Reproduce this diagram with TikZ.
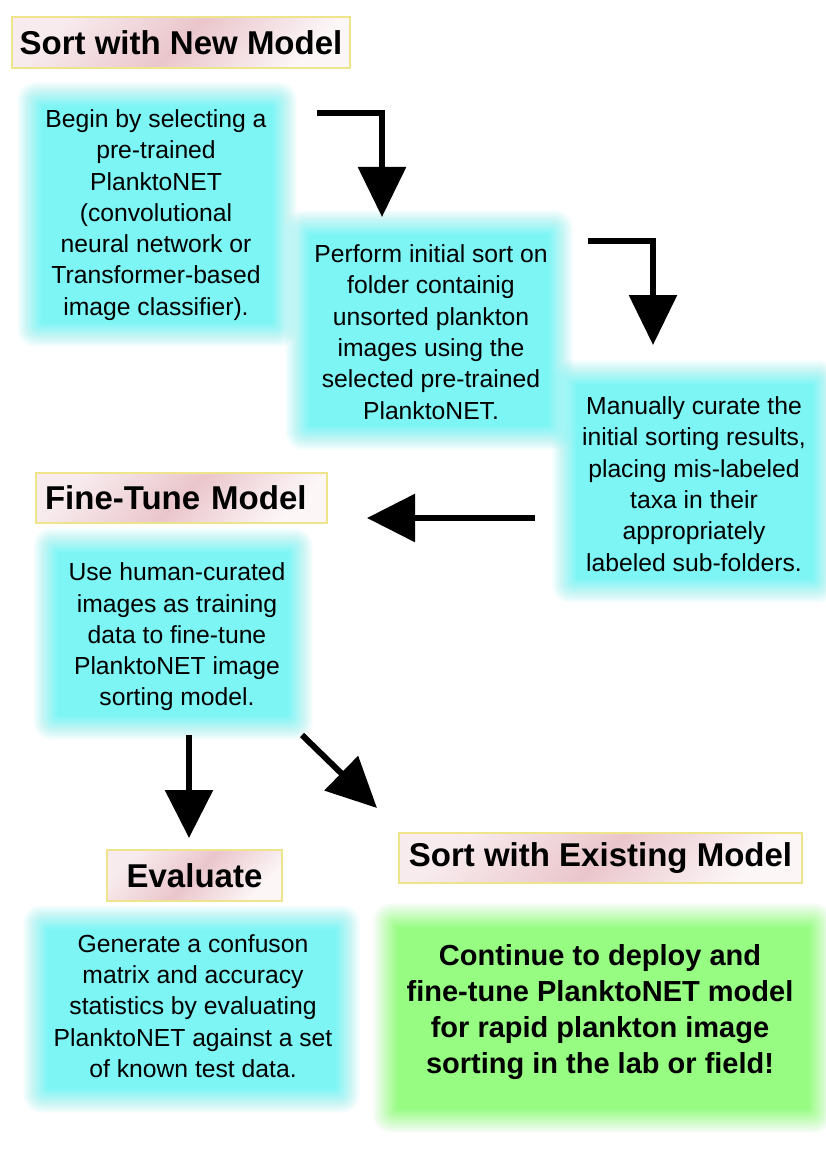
\documentclass[tikz,border=0pt]{standalone}
\usepackage{fontspec}
\setmainfont{Liberation Sans}
\usetikzlibrary{arrows.meta}
\definecolor{cyanG}{RGB}{125,245,245}
\definecolor{greenG}{RGB}{150,252,130}
\definecolor{pinkT}{RGB}{234,198,204}
\definecolor{borderY}{RGB}{238,228,140}
\newcommand\glowbox[5]{%
  \foreach \gI in {20,19,...,-5}{%
    \pgfmathsetmacro\gO{1/(\gI+6)}%
    \pgfmathsetmacro\gR{max(1,0.7*(\gI+6))}%
    \fill[#5, fill opacity=\gO, rounded corners=\gR pt] ({#1-\gI},{#2-\gI}) rectangle ({#3+\gI},{#4+\gI});
  }%
}
\tikzset{
  titlebox/.style={draw=borderY, line width=1.5pt, top color=pinkT!35, bottom color=pinkT!15,
    middle color=pinkT, shading angle=45, inner sep=0pt,
    font=\fontsize{33}{40}\selectfont\bfseries},
  bodytext/.style={align=center, inner sep=0pt, font=\fontsize{24.7}{31.3}\selectfont},
  greentext/.style={align=center, inner sep=0pt, font=\fontsize{29}{36}\selectfont\bfseries},
  arrowline/.style={line width=6pt, miter limit=10, -{Triangle[length=50pt,width=47pt]}}
}
\begin{document}
\begin{tikzpicture}[x=1pt,y=-1pt]
\useasboundingbox (0,0) rectangle (826,1169);
\fill[white] (0,0) rectangle (826,1169);

% glow backgrounds
\glowbox{37}{102}{277}{327}{cyanG}
\glowbox{305}{230}{553}{430}{cyanG}
\glowbox{572}{380}{817}{583}{cyanG}
\glowbox{53}{548}{293}{720}{cyanG}
\glowbox{43}{925}{340}{1093}{cyanG}
\glowbox{393}{923}{813}{1113}{greenG}

% titles
\node[titlebox, minimum width=338pt, minimum height=51pt] (h1) at (181,42.5) {Sort with New Model};
\node[titlebox, minimum height=50pt, text width=273pt, align=left, inner xsep=9pt] (h2) at (181.5,498) {Fine-Tune Model};
\node[titlebox, minimum width=175pt, minimum height=51pt] (h3) at (194.5,875.5) {Evaluate};
\node[titlebox, minimum width=403pt, minimum height=50pt] (h4) at (600.5,858) {Sort with Existing Model};

% body texts
\node[bodytext] (t1) at (156,215) {Begin by selecting a\\pre-trained\\PlanktoNET\\(convolutional\\neural network or\\Transformer-based\\image classifier).};
\node[bodytext] (t2) at (431,332) {Perform initial sort on\\folder containig\\unsorted plankton\\images using the\\selected pre-trained\\PlanktoNET.};
\node[bodytext] (t3) at (694,484) {Manually curate the\\initial sorting results,\\placing mis-labeled\\taxa in their\\appropriately\\labeled sub-folders.};
\node[bodytext] (t4) at (177,637) {Use human-curated\\images as training\\data to fine-tune\\PlanktoNET image\\sorting model.};
\node[bodytext] (t5) at (193,1006) {Generate a confuson\\matrix and accuracy\\statistics by evaluating\\PlanktoNET against a set\\of known test data.};
\node[greentext] (t6) at (600,1012) {Continue to deploy and\\fine-tune PlanktoNET model\\for rapid plankton image\\sorting in the lab or field!};

% arrows
\coordinate (a1s) at (317,113); \coordinate (a1e) at (382,217);
\coordinate (a2s) at (588,241); \coordinate (a2e) at (653,345);
\coordinate (a3s) at (535,518); \coordinate (a3e) at (367,518);
\coordinate (a4s) at (189,735); \coordinate (a4e) at (189,838);
\coordinate (a5s) at (302,735); \coordinate (a5e) at (377,808);
\draw[arrowline] (a1s) -| (a1e);
\draw[arrowline] (a2s) -| (a2e);
\draw[arrowline, -{Triangle[length=48pt,width=47pt]}] (a3s) -- (a3e);
\draw[arrowline, -{Triangle[length=48pt,width=47pt]}] (a4s) -- (a4e);
\draw[arrowline] (a5s) -- (a5e);
\end{tikzpicture}
\end{document}
